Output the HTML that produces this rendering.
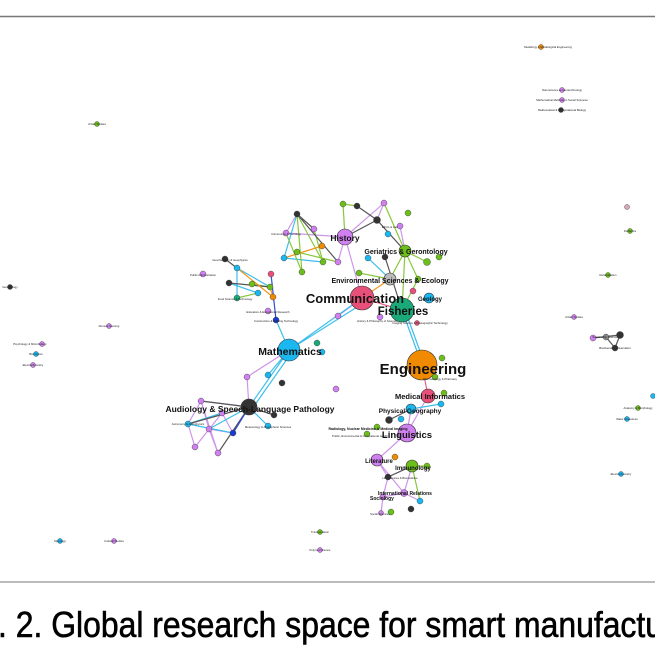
<!DOCTYPE html>
<html><head><meta charset="utf-8"><style>
html,body{margin:0;padding:0;background:#fff;width:655px;height:655px;overflow:hidden}
svg{display:block}
text{font-family:"Liberation Sans",sans-serif}
</style></head><body>
<svg width="655" height="655" viewBox="0 0 655 655">
<rect width="655" height="655" fill="#fff"/>
<line x1="0" y1="16.5" x2="655" y2="16.5" stroke="#777" stroke-width="1.5"/>
<line x1="0" y1="582" x2="655" y2="582" stroke="#777" stroke-width="1"/>
<g stroke-width="1.2" fill="none" opacity="0.9">
<g stroke="#c98ae8">
<path d="M362 298L345 237M345 237L286 233M345 237L384 203M345 237L338 262M286 233L297 214M249 407L247 377M247 377L289 350M249 407L201 401M201 401L188 424M201 401L209 429M222 413L195 447M209 429L218 453M188 424L195 447M222 413L233 433M201 401L218 453M209 429L233 433M407 433L411 409M407 433L377 460M377 460L388 477M388 477L383 497M404 493L383 497M412 466L404 493M377 460L404 493M362 298L338 316M428 396L407 433M383 497L381 513M404 493L420 501M400 226L405 251M384 203L377 220M412 466L388 477"/>
</g>
<g stroke="#29b8e8">
<path d="M289 350L362 298M289 350L365 302M289 350L249 407M292 352L252 409M402 310L422 365M405 310L425 365M289 350L276 320M237 268L237 298M237 268L270 287M229 283L258 293M284 258L297 214M284 258L323 262M368 258L390 279M188 424L233 433M188 424L222 413M249 407L268 426M411 409L441 404M268 375L289 350M209 429L249 407"/>
</g>
<g stroke="#7cc228">
<path d="M405 251L390 279M405 251L402 310M405 251L427 262M405 251L418 279M418 279L402 310M297 214L302 272M297 214L323 262M286 233L302 272M314 229L323 262M297 252L338 262M343 204L345 237M343 204L357 206M252 284L270 287M237 298L258 293M359 273L390 279M384 203L405 251M412 466L420 501M412 466L427 466"/>
</g>
<g stroke="#444">
<path d="M357 206L377 220M377 220L405 251M297 214L314 229M297 214L338 262M229 283L270 287M225 259L237 268M249 407L233 433M249 407L188 424M249 407L201 401M249 407L274 415M249 407L218 453M389 420L411 409M388 477L412 466M385 257L402 310M615 348L606 337M620 335L615 348M593 338L620 335M377 220L345 237"/>
</g>
<g stroke="#f08a00">
<path d="M322 246L284 258M270 287L273 297M362 298L390 279M237 268L273 297"/>
</g>
<g stroke="#1a3ad0"><path d="M276 320L271 274M233 433L249 407"/></g>
<g stroke="#e8507a"><path d="M422 365L428 396M362 298L402 310"/></g>
</g>
<g stroke="#333" stroke-width="0.6">
<circle cx="362" cy="298" r="12" fill="#e8507a"/>
<circle cx="402" cy="310" r="12" fill="#1aaa7a"/>
<circle cx="422" cy="365" r="15" fill="#f08a00"/>
<circle cx="289" cy="350" r="11" fill="#1ab8f0"/>
<circle cx="249" cy="407" r="8" fill="#333"/>
<circle cx="345" cy="237" r="8" fill="#d080f0"/>
<circle cx="405" cy="251" r="6" fill="#6cbf1a"/>
<circle cx="390" cy="279" r="6" fill="#bbb"/>
<circle cx="428" cy="396" r="7" fill="#e8507a"/>
<circle cx="411" cy="409" r="5" fill="#1ab8f0"/>
<circle cx="407" cy="433" r="9" fill="#d080f0"/>
<circle cx="412" cy="466" r="6" fill="#6cbf1a"/>
<circle cx="377" cy="460" r="6" fill="#d080f0"/>
<circle cx="429" cy="298" r="5" fill="#1ab8f0"/>
</g>
<g stroke="#333" stroke-width="0.4">
<g fill="#333"><circle cx="297" cy="214" r="3"/><circle cx="357" cy="206" r="3"/><circle cx="377" cy="220" r="3.5"/><circle cx="385" cy="257" r="3"/><circle cx="225" cy="259" r="3"/><circle cx="229" cy="283" r="3"/><circle cx="282" cy="383" r="3"/><circle cx="274" cy="415" r="3"/><circle cx="389" cy="420" r="3.5"/><circle cx="388" cy="477" r="3"/><circle cx="411" cy="509" r="3"/><circle cx="10" cy="287" r="2.5"/><circle cx="561" cy="110" r="2.5"/><circle cx="620" cy="335" r="3.5"/><circle cx="615" cy="348" r="3"/></g>
<g fill="#d080f0"><circle cx="286" cy="233" r="3"/><circle cx="314" cy="229" r="3"/><circle cx="338" cy="262" r="3"/><circle cx="384" cy="203" r="3"/><circle cx="400" cy="226" r="3"/><circle cx="380" cy="317" r="3"/><circle cx="338" cy="316" r="3"/><circle cx="203" cy="274" r="3"/><circle cx="268" cy="311" r="3"/><circle cx="247" cy="377" r="3"/><circle cx="336" cy="389" r="3"/><circle cx="201" cy="401" r="3"/><circle cx="209" cy="429" r="3"/><circle cx="222" cy="413" r="3"/><circle cx="195" cy="447" r="3"/><circle cx="218" cy="453" r="3"/><circle cx="383" cy="497" r="3"/><circle cx="404" cy="493" r="3.5"/><circle cx="381" cy="513" r="2.5"/><circle cx="562" cy="90" r="2.5"/><circle cx="562" cy="100" r="2.5"/><circle cx="574" cy="317" r="2.5"/><circle cx="593" cy="338" r="3"/><circle cx="109" cy="326" r="2.5"/><circle cx="42" cy="344" r="2.5"/><circle cx="33" cy="365" r="2.5"/><circle cx="114" cy="541" r="2.5"/><circle cx="320" cy="550" r="2.5"/><circle cx="627" cy="207" r="2.5" fill="#d8a8b8"/></g>
<g fill="#1ab8f0"><circle cx="284" cy="258" r="3"/><circle cx="388" cy="234" r="3"/><circle cx="368" cy="258" r="3"/><circle cx="237" cy="268" r="3"/><circle cx="258" cy="293" r="3"/><circle cx="322" cy="352" r="3"/><circle cx="268" cy="375" r="3"/><circle cx="188" cy="424" r="3"/><circle cx="268" cy="426" r="3"/><circle cx="441" cy="404" r="3"/><circle cx="401" cy="419" r="3"/><circle cx="420" cy="501" r="3"/><circle cx="36" cy="354" r="2.5"/><circle cx="60" cy="541" r="2.5"/><circle cx="653" cy="396" r="2.5"/><circle cx="627" cy="419" r="2.5"/><circle cx="621" cy="474" r="2.5"/></g>
<g fill="#6cbf1a"><circle cx="302" cy="272" r="3"/><circle cx="323" cy="262" r="3"/><circle cx="297" cy="252" r="3"/><circle cx="343" cy="204" r="3"/><circle cx="408" cy="213" r="3"/><circle cx="427" cy="262" r="3.5"/><circle cx="439" cy="257" r="3"/><circle cx="359" cy="273" r="3"/><circle cx="418" cy="279" r="3"/><circle cx="252" cy="284" r="3"/><circle cx="270" cy="287" r="3"/><circle cx="442" cy="358" r="3"/><circle cx="435" cy="377" r="3"/><circle cx="444" cy="393" r="3"/><circle cx="377" cy="427" r="3"/><circle cx="367" cy="434" r="3"/><circle cx="391" cy="512" r="3"/><circle cx="427" cy="466" r="3"/><circle cx="97" cy="124" r="2.5"/><circle cx="630" cy="231" r="2.5"/><circle cx="608" cy="275" r="2.5"/><circle cx="638" cy="408" r="2.5"/><circle cx="320" cy="532" r="2.5"/></g>
<g fill="#1aaa7a"><circle cx="237" cy="298" r="3"/><circle cx="317" cy="343" r="3"/></g>
<g fill="#f08a00"><circle cx="322" cy="246" r="3"/><circle cx="273" cy="297" r="3"/><circle cx="395" cy="457" r="3"/><circle cx="541" cy="47" r="2.5"/></g>
<g fill="#e8507a"><circle cx="271" cy="274" r="3"/><circle cx="413" cy="291" r="3"/><circle cx="417" cy="323" r="2.5"/></g>
<g fill="#1a3ad0"><circle cx="276" cy="320" r="3"/><circle cx="233" cy="433" r="3"/></g>
<circle cx="606" cy="337" r="3" fill="#888"/>
</g>
<g font-weight="bold" fill="#111" text-anchor="middle">
<text x="355" y="303" font-size="13">Communication</text>
<text x="403" y="315" font-size="11.5">Fisheries</text>
<text x="423" y="374" font-size="15">Engineering</text>
<text x="290" y="355" font-size="10.5">Mathematics</text>
<text x="250" y="412" font-size="8.5">Audiology &amp; Speech-Language Pathology</text>
<text x="345" y="241" font-size="8.5">History</text>
<text x="406" y="254" font-size="7">Geriatrics &amp; Gerontology</text>
<text x="390" y="283" font-size="7">Environmental Sciences &amp; Ecology</text>
<text x="430" y="399" font-size="7.5">Medical Informatics</text>
<text x="410" y="413" font-size="6.5">Physical Geography</text>
<text x="407" y="438" font-size="9.5">Linguistics</text>
<text x="430" y="301" font-size="6">Geology</text>
<text x="379" y="463" font-size="6">Literature</text>
<text x="413" y="470" font-size="6">Immunology</text>
<text x="405" y="495" font-size="5">International Relations</text>
<text x="382" y="500" font-size="5">Sociology</text>
<text x="368" y="430" font-size="3.5">Radiology, Nuclear Medicine &amp; Medical Imaging</text>
</g>
<g font-size="2.8" fill="#222" text-anchor="middle">
<text x="548" y="48">Metallurgy &amp; Metallurgical Engineering</text>
<text x="562" y="91">Nanoscience &amp; Nanotechnology</text>
<text x="562" y="101">Mathematical Methods in Social Sciences</text>
<text x="562" y="111">Mathematical &amp; Computational Biology</text>
<text x="97" y="125">Urban Studies</text>
<text x="10" y="288">Gerontology</text>
<text x="109" y="327">Remote Sensing</text>
<text x="30" y="345">Psychology &amp; Microbiology</text>
<text x="36" y="355">Biophysics</text>
<text x="33" y="366">Electrochemistry</text>
<text x="60" y="542">Mycology</text>
<text x="114" y="542">Cultural Studies</text>
<text x="320" y="533">Transportation</text>
<text x="320" y="551">Polymer Science</text>
<text x="574" y="318">Urban Studies</text>
<text x="605" y="338">Sustainable Science</text>
<text x="615" y="349">Biodiversity Conservation</text>
<text x="608" y="276">Rehabilitation</text>
<text x="630" y="232">Pediatrics</text>
<text x="638" y="409">Anatomy &amp; Morphology</text>
<text x="627" y="420">Water Resources</text>
<text x="621" y="475">Electrochemistry</text>
<text x="230" y="261">Geochemistry &amp; Geophysics</text>
<text x="203" y="276">Public Administration</text>
<text x="235" y="300">Food Science &amp; Technology</text>
<text x="268" y="313">Education &amp; Educational Research</text>
<text x="276" y="322">Construction &amp; Building Technology</text>
<text x="286" y="235">Criminology &amp; Penology</text>
<text x="390" y="228">Ethics &amp; Law</text>
<text x="377" y="322">History &amp; Philosophy of Science</text>
<text x="420" y="324">Imaging Science &amp; Photographic Technology</text>
<text x="440" y="380">Pharmacology &amp; Pharmacy</text>
<text x="268" y="428">Meteorology &amp; Atmospheric Sciences</text>
<text x="188" y="425">Astronomy &amp; Astrophysics</text>
<text x="360" y="437">Public, Environmental &amp; Occupational Health</text>
<text x="400" y="479">Life Sciences &amp; Biomedicine</text>
<text x="380" y="515">Social Sciences</text>
</g>
<text x="-2" y="637" font-size="36" font-family="Liberation Sans,sans-serif" stroke="#000" stroke-width="0.6" textLength="665" lengthAdjust="spacingAndGlyphs" fill="#000">. 2. Global research space for smart manufactu</text>
</svg>
</body></html>
